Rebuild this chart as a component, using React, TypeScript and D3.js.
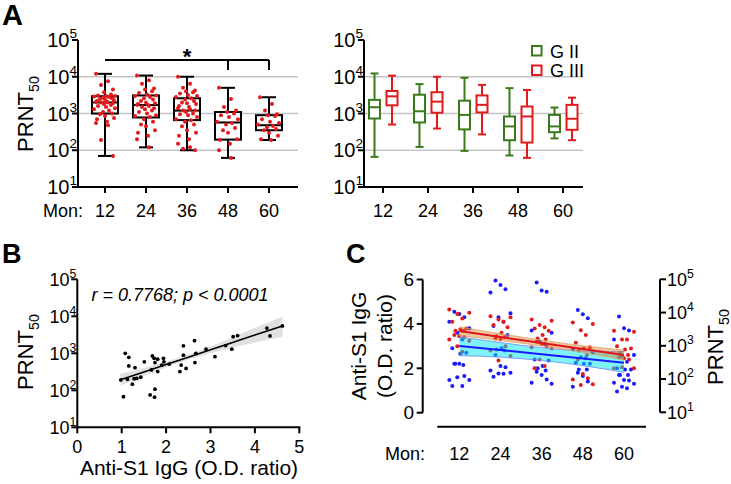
import React from 'react';
import * as d3 from 'd3';

const FONT = 'Liberation Sans, Arial, Helvetica, sans-serif';

// ---------- Panel A (left): PRNT50 by month ----------
const months = [12, 24, 36, 48, 60];
const monthLabels = ['12', '24', '36', '48', '60'];
const logTicks = [10, 100, 1000, 10000, 100000];
const logExps = ['1', '2', '3', '4', '5'];
const gridVals = [100, 1000, 10000];

const allMin = [70, 120, 100, 62, 190];
const allQ1 = [1000, 780, 660, 195, 350];
const allMed = [2000, 1700, 1200, 570, 480];
const allQ3 = [2950, 3100, 2600, 1100, 900];
const allMax = [12000, 10800, 10000, 5000, 2770];

const dots12 = [12000, 7500, 6000, 4500, 3800, 3300, 3100, 3000, 3000, 2900, 2800, 2700, 2600, 2500, 2400, 2300, 2200, 2100, 2050, 2000, 2000, 1900, 1800, 1700, 1600, 1500, 1400, 1300, 1200, 1100, 1000, 950, 850, 750, 700, 600, 550, 480, 190, 70];
const dots24 = [10800, 8000, 6500, 4800, 4500, 4000, 3600, 3300, 3100, 3000, 2800, 2600, 2400, 2200, 2000, 1900, 1800, 1700, 1700, 1600, 1500, 1400, 1300, 1200, 1100, 1000, 900, 850, 800, 700, 600, 500, 450, 350, 300, 250, 200, 120];
const dots36 = [10000, 6500, 5000, 4200, 4000, 3800, 3500, 3200, 3000, 2800, 2600, 2400, 2200, 2000, 1900, 1800, 1600, 1500, 1400, 1300, 1200, 1200, 1100, 1000, 950, 900, 800, 700, 660, 600, 500, 450, 350, 300, 250, 200, 150, 120, 110, 100];
const dots48 = [5000, 2500, 1500, 1200, 1100, 1000, 900, 800, 700, 600, 550, 500, 400, 350, 300, 200, 190, 150, 100, 62];
const dots60 = [2770, 1800, 1200, 950, 900, 850, 700, 600, 550, 500, 460, 420, 380, 350, 300, 250, 200, 190];
const dotsA = [dots12, dots24, dots36, dots48, dots60];

// ---------- Panel A (right): G II vs G III ----------
const groups = ['G II', 'G III'];
const g2Min = [66, 123, 96, 72, 210];
const g2Q1 = [730, 570, 370, 187, 310];
const g2Med = [1480, 1150, 915, 445, 445];
const g2Q3 = [2350, 3240, 2230, 830, 915];
const g2Max = [12300, 6300, 9400, 4900, 1450];
const g3Min = [500, 390, 270, 62, 187];
const g3Q1 = [1670, 1050, 1070, 162, 360];
const g3Med = [2940, 2100, 1720, 830, 720];
const g3Q3 = [4100, 3800, 3100, 1550, 1720];
const g3Max = [10700, 10000, 6000, 4370, 2700];

// ---------- Panel B: correlation ----------
const bIgG = [0.98, 1.08, 1.16, 1.13, 1.16, 1.04, 1.24, 1.30, 1.34, 1.28, 1.43, 1.51, 1.69, 1.73, 1.75, 1.81, 1.67, 1.81, 1.64, 1.75, 1.74, 1.94, 1.95, 1.90, 2.07, 2.31, 2.34, 2.39, 2.39, 2.45, 2.64, 2.67, 2.65, 2.90, 3.10, 3.34, 3.48, 3.51, 3.61, 4.27, 4.34, 4.62];
const bPRNT = [191, 1000, 780, 198, 455, 67, 146, 410, 210, 205, 225, 590, 850, 730, 560, 690, 355, 320, 75, 107, 65, 730, 590, 480, 510, 320, 480, 890, 1590, 390, 2200, 1000, 560, 1290, 810, 1620, 1290, 2820, 3020, 4800, 2950, 5500];
const bFitX = [0.97, 1.5, 2, 2.5, 3, 3.5, 4, 4.62];
const bFit = [192, 313, 495, 783, 1242, 1963, 3112, 5495];
const bUpper = [278, 403, 596, 920, 1528, 2710, 4930, 9800];
const bLower = [133, 243, 412, 667, 1009, 1422, 1963, 2750];
const bXTicks = [0, 1, 2, 3, 4, 5];

// ---------- Panel C: IgG (blue, left axis) and PRNT50 (red, right axis) ----------
const cBlue12 = [4.55, 4.45, 4.3, 4.1, 3.8, 3.6, 3.3, 2.9, 2.7, 2.65, 2.2, 2.15, 2.2, 2.2, 1.65, 1.47, 1.47, 1.6, 1.2, 1.2];
const cBlue24 = [5.95, 5.75, 5.56, 5.41, 4.48, 4.3, 4.1, 3.9, 3.5, 2.9, 2.85, 2.8, 2.6, 2.1, 2.05, 1.9, 1.8, 1.77, 1.75, 1.62];
const cBlue36 = [5.86, 5.5, 5.45, 3.7, 3.6, 3.2, 3.1, 2.4, 2.35, 2.1, 2.0, 1.9, 1.85, 1.7, 1.5, 1.35, 1.3];
const cBlue48 = [4.63, 4.43, 4.25, 2.85, 2.7, 2.5, 2.45, 2.25, 2.2, 2.2, 1.95, 1.95, 1.8, 1.65, 1.4, 1.17];
const cBlue60 = [4.33, 3.8, 3.7, 3.3, 2.6, 2.55, 2.3, 2.0, 1.95, 1.95, 1.7, 1.7, 1.7, 1.47, 1.45, 1.35, 1.3, 1.17, 1.1, 0.95];
const cBlue = [cBlue12, cBlue24, cBlue36, cBlue48, cBlue60];

const cRed12 = [12300, 9800, 9000, 6650, 5300, 3330, 3090, 2860, 2860, 2100, 1950, 1800, 1550, 1430, 975, 665];
const cRed24 = [7800, 7200, 6150, 5300, 4200, 3600, 2450, 1950, 1800, 1670, 1550, 975, 720, 490, 360];
const cRed36 = [6150, 5700, 4200, 3600, 3330, 2860, 2100, 1670, 1550, 1330, 1140, 975, 900, 835, 390, 245, 210];
const cRed48 = [5050, 4500, 2950, 2100, 1230, 900, 835, 720, 530, 390, 141, 105, 97, 70, 66];
const cRed60 = [2860, 2650, 1550, 1550, 975, 835, 775, 615, 530, 455, 420, 390, 210, 210, 225];
const cRed = [cRed12, cRed24, cRed36, cRed48, cRed60];

const cBlueFit = [3.0, 2.82, 2.63, 2.44, 2.25];
const cBlueUpper = [3.42, 3.16, 2.93, 2.78, 2.75];
const cBlueLower = [2.57, 2.5, 2.35, 2.12, 1.82];
const cRedFit = [2770, 1830, 1210, 800, 527];
const cRedUpper = [3700, 2300, 1480, 1000, 740];
const cRedLower = [2050, 1450, 990, 635, 375];
const cLeftTicks = [0, 2, 4, 6];

// ---------- style constants ----------
const JIT_A = [-9, 3, -4, 8, -1, 6, -7, 1, 10, -11, 4, -2, 7, -5, 0, 9, -8, 2];
const JIT_C = [-5, 0, 5, -10, 10, -2, 3, -7, 7, 1, -4, 4];
const RED = '#e31a1c';
const GREEN = '#3b7a1a';
const BLUE = '#1a1aff';

function LogLabel({ x, y, exp, size, anchor }: any) {
  return (
    <text x={x} y={y + size * 0.35} fontSize={size} textAnchor={anchor} fontFamily={FONT} fill="#000">
      10<tspan dy={-size * 0.45} fontSize={size * 0.68}>{exp}</tspan>
    </text>
  );
}

function Prnt({ x, y, size }: any) {
  return (
    <text transform={`translate(${x},${y}) rotate(-90)`} fontSize={size} textAnchor="middle" fontFamily={FONT}>
      PRNT<tspan dy={size * 0.25} fontSize={size * 0.65}>50</tspan>
    </text>
  );
}

function PanelALeft() {
  const y = d3.scaleLog().domain([10, 100000]).range([187, 40]);
  const x = d3.scaleLinear().domain([12, 60]).range([105, 269]);
  const x0 = 78, x1 = 298;
  const bw = 13, cw = 7;
  return (
    <g>
      {gridVals.map((v) => (
        <line key={v} x1={x0} x2={x1} y1={y(v)} y2={y(v)} stroke="#c4c4c4" strokeWidth={1.6} />
      ))}
      <line x1={x0} x2={x0} y1={y(100000)} y2={y(10)} stroke="#000" strokeWidth={2} />
      <line x1={x0 - 1} x2={x1} y1={y(10)} y2={y(10)} stroke="#000" strokeWidth={2} />
      {logTicks.map((v, i) => (
        <g key={v}>
          <line x1={x0 - 6} x2={x0} y1={y(v)} y2={y(v)} stroke="#000" strokeWidth={2} />
          <LogLabel x={x0 - 1} y={y(v)} exp={logExps[i]} size={20} anchor="end" />
        </g>
      ))}
      {months.map((m, i) => (
        <g key={m}>
          <line x1={x(m)} x2={x(m)} y1={y(10)} y2={y(10) + 6} stroke="#000" strokeWidth={2} />
          <text x={x(m)} y={217} fontSize={18} textAnchor="middle" fontFamily={FONT}>{monthLabels[i]}</text>
        </g>
      ))}
      <text x={83} y={217} fontSize={18} textAnchor="end" fontFamily={FONT}>Mon:</text>
      <Prnt x={33} y={114} size={22} />
      {months.map((m, i) => {
        const cx = x(m);
        return (
          <g key={'b' + m}>
            <line x1={cx} x2={cx} y1={y(allMax[i])} y2={y(allQ3[i])} stroke="#000" strokeWidth={2} />
            <line x1={cx} x2={cx} y1={y(allQ1[i])} y2={y(allMin[i])} stroke="#000" strokeWidth={2} />
            <line x1={cx - cw} x2={cx + cw} y1={y(allMax[i])} y2={y(allMax[i])} stroke="#000" strokeWidth={2} />
            <line x1={cx - cw} x2={cx + cw} y1={y(allMin[i])} y2={y(allMin[i])} stroke="#000" strokeWidth={2} />
            <rect x={cx - bw} y={y(allQ3[i])} width={bw * 2} height={y(allQ1[i]) - y(allQ3[i])} fill="#fff" stroke="#000" strokeWidth={2} />
            <line x1={cx - bw} x2={cx + bw} y1={y(allMed[i])} y2={y(allMed[i])} stroke="#000" strokeWidth={2} />
            {dotsA[i].map((v, j) => (
              <circle key={j} cx={cx + JIT_A[j % JIT_A.length]} cy={y(v)} r={2} fill={RED} />
            ))}
          </g>
        );
      })}
      <line x1={x(12)} x2={x(60)} y1={60} y2={60} stroke="#000" strokeWidth={2} />
      <line x1={x(48)} x2={x(48)} y1={60} y2={70} stroke="#000" strokeWidth={2} />
      <line x1={x(60)} x2={x(60)} y1={60} y2={70} stroke="#000" strokeWidth={2} />
      <text x={x(36)} y={64} fontSize={22} fontWeight="bold" textAnchor="middle" fontFamily={FONT}>*</text>
    </g>
  );
}

function PanelARight() {
  const y = d3.scaleLog().domain([10, 100000]).range([187, 40]);
  const x = d3.scaleLinear().domain([12, 60]).range([383, 563]);
  const x0 = 364, x1 = 583;
  const bw = 5.5, cw = 4;
  const sets = [
    { c: GREEN, off: -8.5, mn: g2Min, q1: g2Q1, md: g2Med, q3: g2Q3, mx: g2Max },
    { c: RED, off: 9, mn: g3Min, q1: g3Q1, md: g3Med, q3: g3Q3, mx: g3Max },
  ];
  return (
    <g>
      {gridVals.map((v) => (
        <line key={v} x1={x0} x2={x1} y1={y(v)} y2={y(v)} stroke="#c4c4c4" strokeWidth={1.6} />
      ))}
      <line x1={x0} x2={x0} y1={y(100000)} y2={y(10)} stroke="#000" strokeWidth={2} />
      <line x1={x0 - 1} x2={x1} y1={y(10)} y2={y(10)} stroke="#000" strokeWidth={2} />
      {logTicks.map((v, i) => (
        <g key={v}>
          <line x1={x0 - 6} x2={x0} y1={y(v)} y2={y(v)} stroke="#000" strokeWidth={2} />
          <LogLabel x={x0 - 1} y={y(v)} exp={logExps[i]} size={20} anchor="end" />
        </g>
      ))}
      {months.map((m, i) => (
        <g key={m}>
          <line x1={x(m)} x2={x(m)} y1={y(10)} y2={y(10) + 6} stroke="#000" strokeWidth={2} />
          <text x={x(m)} y={217} fontSize={18} textAnchor="middle" fontFamily={FONT}>{monthLabels[i]}</text>
        </g>
      ))}
      {sets.map((s) =>
        months.map((m, i) => {
          const cx = x(m) + s.off;
          return (
            <g key={s.c + m}>
              <line x1={cx} x2={cx} y1={y(s.mx[i])} y2={y(s.q3[i])} stroke={s.c} strokeWidth={2} />
              <line x1={cx} x2={cx} y1={y(s.q1[i])} y2={y(s.mn[i])} stroke={s.c} strokeWidth={2} />
              <line x1={cx - cw} x2={cx + cw} y1={y(s.mx[i])} y2={y(s.mx[i])} stroke={s.c} strokeWidth={2} />
              <line x1={cx - cw} x2={cx + cw} y1={y(s.mn[i])} y2={y(s.mn[i])} stroke={s.c} strokeWidth={2} />
              <rect x={cx - bw} y={y(s.q3[i])} width={bw * 2} height={y(s.q1[i]) - y(s.q3[i])} fill="#fff" stroke={s.c} strokeWidth={2} />
              <line x1={cx - bw} x2={cx + bw} y1={y(s.md[i])} y2={y(s.md[i])} stroke={s.c} strokeWidth={2} />
            </g>
          );
        })
      )}
      {groups.map((g, i) => (
        <g key={g}>
          <rect x={532} y={46 + i * 19.5} width={9.5} height={9.5} fill="#fff" stroke={i === 0 ? GREEN : RED} strokeWidth={2} />
          <text x={550} y={57.5 + i * 19.5} fontSize={18} fontFamily={FONT}>{g}</text>
        </g>
      ))}
    </g>
  );
}

function PanelB() {
  const y = d3.scaleLog().domain([10, 100000]).range([427.3, 279.3]);
  const x = d3.scaleLinear().domain([0, 5]).range([77.3, 299.3]);
  const band = d3.area<number>()
    .x((d, i) => x(bFitX[i]))
    .y0((d, i) => y(bLower[i]))
    .y1((d, i) => y(bUpper[i]))
    .curve(d3.curveMonotoneX);
  const line = d3.line<number>().x((d, i) => x(bFitX[i])).y((d) => y(d)).curve(d3.curveMonotoneX);
  return (
    <g>
      <path d={band(bFit) || ''} fill="#d6d6d6" opacity={0.75} />
      <path d={line(bFit) || ''} fill="none" stroke="#000" strokeWidth={1.6} />
      {bIgG.map((v, i) => (
        <circle key={i} cx={x(v)} cy={y(bPRNT[i])} r={1.9} fill="#000" />
      ))}
      <line x1={x(0)} x2={x(0)} y1={y(100000)} y2={y(10)} stroke="#000" strokeWidth={2} />
      <line x1={x(0) - 1} x2={x(5) + 1} y1={y(10)} y2={y(10)} stroke="#000" strokeWidth={2} />
      {logTicks.map((v, i) => (
        <g key={v}>
          <line x1={x(0) - 6} x2={x(0)} y1={y(v)} y2={y(v)} stroke="#000" strokeWidth={2} />
          <LogLabel x={x(0) - 1} y={y(v)} exp={logExps[i]} size={18} anchor="end" />
        </g>
      ))}
      {bXTicks.map((t) => (
        <g key={t}>
          <line x1={x(t)} x2={x(t)} y1={y(10)} y2={y(10) + 6} stroke="#000" strokeWidth={2} />
          <text x={x(t)} y={453} fontSize={18} textAnchor="middle" fontFamily={FONT}>{t}</text>
        </g>
      ))}
      <text x={189} y={475} fontSize={21} textAnchor="middle" fontFamily={FONT}>Anti-S1 IgG (O.D. ratio)</text>
      <Prnt x={33} y={352} size={22} />
      <text x={180} y={301} fontSize={18} fontStyle="italic" textAnchor="middle" fontFamily={FONT}>r = 0.7768; p &lt; 0.0001</text>
    </g>
  );
}

function PanelC() {
  const yL = d3.scaleLinear().domain([0, 6]).range([412.7, 279.5]);
  const yR = d3.scaleLog().domain([10, 100000]).range([412.3, 279.3]);
  const x = d3.scaleLinear().domain([12, 60]).range([459.3, 624]);
  const blueBand = d3.area<number>().x((d, i) => x(months[i])).y0((d, i) => yL(cBlueLower[i])).y1((d, i) => yL(cBlueUpper[i])).curve(d3.curveMonotoneX);
  const redBand = d3.area<number>().x((d, i) => x(months[i])).y0((d, i) => yR(cRedLower[i])).y1((d, i) => yR(cRedUpper[i])).curve(d3.curveMonotoneX);
  const blueLine = d3.line<number>().x((d, i) => x(months[i])).y((d) => yL(d));
  const redLine = d3.line<number>().x((d, i) => x(months[i])).y((d) => yR(d));
  const bu = d3.line<number>().x((d, i) => x(months[i])).y((d) => yL(d)).curve(d3.curveMonotoneX);
  const ru = d3.line<number>().x((d, i) => x(months[i])).y((d) => yR(d)).curve(d3.curveMonotoneX);
  return (
    <g>
      {months.map((m, i) => (
        <g key={'bd' + m}>
          {cBlue[i].map((v, j) => (
            <circle key={j} cx={x(m) + JIT_C[j % JIT_C.length]} cy={yL(v)} r={2} fill={BLUE} />
          ))}
          {cRed[i].map((v, j) => (
            <circle key={'r' + j} cx={x(m) + JIT_C[(j + 3) % JIT_C.length]} cy={yR(v)} r={2} fill={RED} />
          ))}
        </g>
      ))}
      <path d={blueBand(cBlueFit) || ''} fill="rgb(0,230,240)" opacity={0.5} />
      <path d={bu(cBlueUpper) || ''} fill="none" stroke="#6f86ff" strokeWidth={0.8} />
      <path d={bu(cBlueLower) || ''} fill="none" stroke="#6f86ff" strokeWidth={0.8} />
      <path d={redBand(cRedFit) || ''} fill="rgb(215,125,30)" opacity={0.42} />
      <path d={ru(cRedUpper) || ''} fill="none" stroke="#e0a060" strokeWidth={0.8} />
      <path d={ru(cRedLower) || ''} fill="none" stroke="#e0a060" strokeWidth={0.8} />
      <path d={blueLine(cBlueFit) || ''} fill="none" stroke={BLUE} strokeWidth={2} />
      <path d={redLine(cRedFit) || ''} fill="none" stroke="#e0141e" strokeWidth={2} />

      <line x1={422.7} x2={422.7} y1={yL(6)} y2={yL(0)} stroke="#000" strokeWidth={2} />
      {cLeftTicks.map((t) => (
        <g key={t}>
          <line x1={416.7} x2={422.7} y1={yL(t)} y2={yL(t)} stroke="#000" strokeWidth={2} />
          <text x={414} y={yL(t) + 6.5} fontSize={19} textAnchor="end" fontFamily={FONT}>{t}</text>
        </g>
      ))}
      <line x1={660} x2={660} y1={yR(100000)} y2={yR(10)} stroke="#000" strokeWidth={2} />
      {logTicks.map((v, i) => (
        <g key={v}>
          <line x1={660} x2={666} y1={yR(v)} y2={yR(v)} stroke="#000" strokeWidth={2} />
          <LogLabel x={667} y={yR(v)} exp={logExps[i]} size={18} anchor="start" />
        </g>
      ))}
      <line x1={437.3} x2={646} y1={426.7} y2={426.7} stroke="#000" strokeWidth={2} />
      {months.map((m, i) => (
        <text key={m} x={x(m)} y={460} fontSize={18} textAnchor="middle" fontFamily={FONT}>{monthLabels[i]}</text>
      ))}
      <text x={425} y={460} fontSize={18} textAnchor="end" fontFamily={FONT}>Mon:</text>
      <text transform="translate(366,346) rotate(-90)" fontSize={21} textAnchor="middle" fontFamily={FONT}>Anti-S1 IgG</text>
      <text transform="translate(392,346) rotate(-90)" fontSize={21} textAnchor="middle" fontFamily={FONT}>(O.D. ratio)</text>
      <Prnt x={723} y={347} size={22} />
    </g>
  );
}

export default function App() {
  return (
    <svg width={731} height={484} style={{ position: 'absolute', left: 0, top: 0, background: '#fff' }}>
      <rect width={731} height={484} fill="#fff" />
      <text x={2} y={25} fontSize={29} fontWeight="bold" fontFamily={FONT}>A</text>
      <text x={2} y={263} fontSize={27} fontWeight="bold" fontFamily={FONT}>B</text>
      <text x={346} y={263} fontSize={27} fontWeight="bold" fontFamily={FONT}>C</text>
      <PanelALeft />
      <PanelARight />
      <PanelB />
      <PanelC />
    </svg>
  );
}
